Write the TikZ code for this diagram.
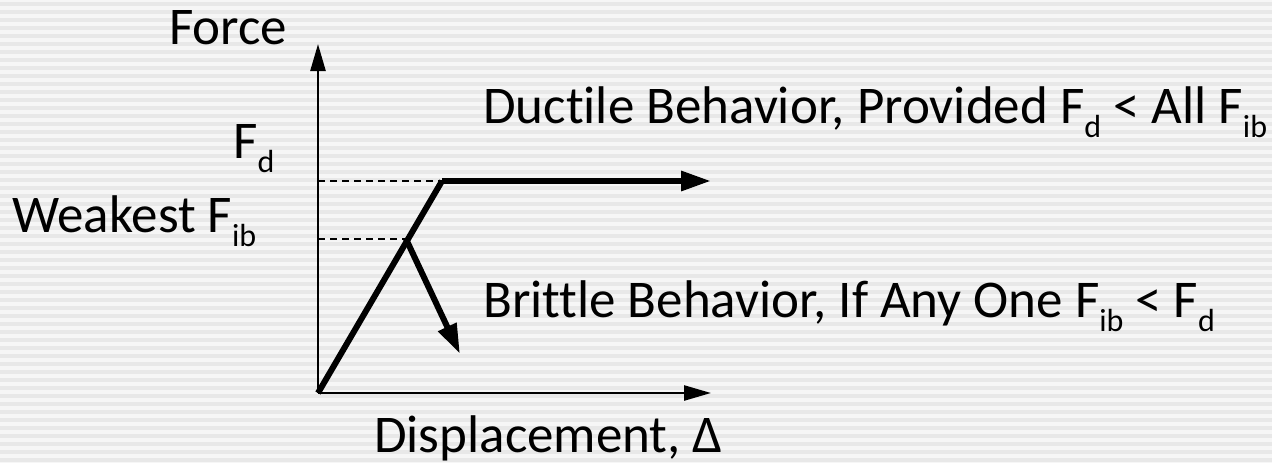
\documentclass[tikz,border=0pt]{standalone}
\usepackage{fontspec}
\setmainfont[Ligatures={NoCommon}]{Carlito}
\usetikzlibrary{arrows.meta}
\newcommand{\lowidx}[1]{\raisebox{-14pt}{\fontsize{32}{32}\selectfont #1}}
\definecolor{bgpale}{HTML}{F6F6F6}
\definecolor{bgstripe}{HTML}{E8E8E8}
\tikzset{
  lbl/.style={inner sep=0pt, anchor=base west, font=\fontsize{53}{62}\selectfont},
  axis/.style={line width=2.5pt, -{Triangle[length=27pt,width=15pt]}},
  curve/.style={line width=6pt, line join=miter},
  curvehead/.style={line width=6pt, -{Triangle[length=30pt,width=19pt]}},
  guide/.style={line width=1.4pt, dash pattern=on 7pt off 5pt},
}
\begin{document}
\begin{tikzpicture}[x=1pt,y=-1pt]
  % striped backdrop
  \fill[bgpale] (0,0) rectangle (1272,463);
  \foreach \k in {0,...,57} {
    \fill[bgstripe] (0,{8*\k+2}) rectangle (1272,{8*\k+5.5});
  }
  \useasboundingbox (0,0) rectangle (1272,463);

  % key points of the force-displacement plot
  \coordinate (O) at (318,393);
  \coordinate (ytip) at (318,44);
  \coordinate (xtip) at (711,393);
  \coordinate (yield) at (442,181);
  \coordinate (dtip) at (711,181);
  \coordinate (brk) at (406,239);
  \coordinate (btip) at (460,354);
  \coordinate (fdaxis) at (318,181);
  \coordinate (fibaxis) at (318,239);

  % axes
  \draw[axis] (O) -- (ytip);
  \draw[axis] (O) -- (xtip);

  % guide lines to the force axis
  \draw[guide] (fdaxis) -- (yield);
  \draw[guide] (fibaxis) -- (brk);

  % ductile branch and brittle branch
  \draw[curve] (O) -- (yield);
  \draw[curvehead] (yield) -- (dtip);
  \draw[curvehead] (brk) -- (btip);

  % labels
  \node[lbl] (force) at (169,44) {Force};
  \node[lbl] (fd) at (233,158) {F\lowidx{d}};
  \node[lbl] (weak) at (12,232) {Weakest F\lowidx{ib}};
  \node[lbl] (ductile) at (483,123) {Ductile Behavior, Provided F\lowidx{d} < All F\lowidx{ib}};
  \node[lbl] (brittle) at (483,317) {Brittle Behavior, If Any One F\lowidx{ib} < F\lowidx{d}};
  \node[lbl] (disp) at (374,452) {Displacement, Δ};
\end{tikzpicture}
\end{document}
